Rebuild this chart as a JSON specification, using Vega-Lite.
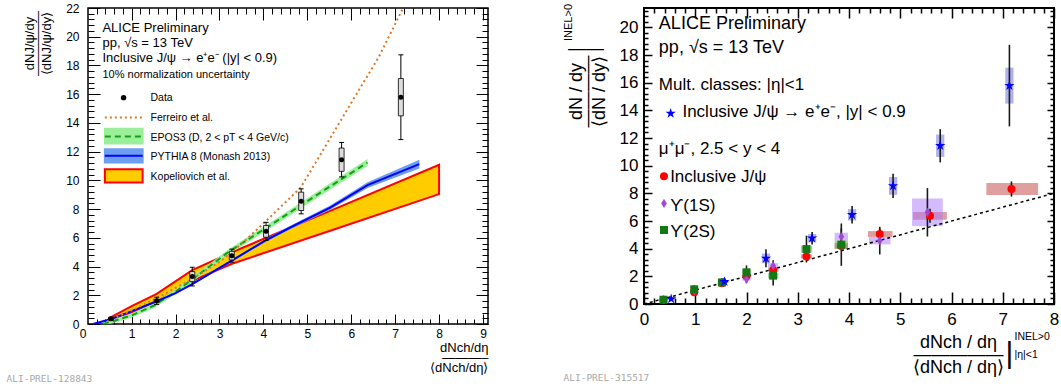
{
  "$schema": "https://vega.github.io/schema/vega-lite/v6.json",
  "padding": {"left": 5, "top": 1, "right": 0, "bottom": 0},
  "spacing": 71,
  "resolve": {"scale": {"fill": "independent", "stroke": "independent", "color": "independent", "shape": "independent"}},
  "config": {
    "font": "Liberation Sans",
    "axis": {"grid": false, "domain": false, "labelFlush": false, "labelOverlap": false, "labelColor": "#000000", "tickColor": "#000000", "titleColor": "#000000", "titleFontWeight": "normal", "titlePadding": 0},
    "view": {"stroke": "#000000", "strokeWidth": 1.5}
  },
  "datasets": {
    "curves": [
      {"model": "Kopeliovich", "x": 0.48, "lo": 0.1, "hi": 0.4},
      {"model": "Kopeliovich", "x": 1.0, "lo": 0.8, "hi": 1.25},
      {"model": "Kopeliovich", "x": 1.57, "lo": 1.55, "hi": 2.1},
      {"model": "Kopeliovich", "x": 2.38, "lo": 3.0, "hi": 3.75},
      {"model": "Kopeliovich", "x": 3.27, "lo": 4.18, "hi": 4.98},
      {"model": "Kopeliovich", "x": 5.52, "lo": 6.49, "hi": 7.88},
      {"model": "Kopeliovich", "x": 8.0, "lo": 9.04, "hi": 11.08},
      {"model": "EPOS3", "x": 0.35, "lo": 0.0, "mid": 0.0, "hi": 0.1},
      {"model": "EPOS3", "x": 0.52, "lo": 0.02, "mid": 0.15, "hi": 0.28},
      {"model": "EPOS3", "x": 1.0, "lo": 0.45, "mid": 0.6, "hi": 0.75},
      {"model": "EPOS3", "x": 1.5, "lo": 1.1, "mid": 1.27, "hi": 1.44},
      {"model": "EPOS3", "x": 2.0, "lo": 2.07, "mid": 2.25, "hi": 2.43},
      {"model": "EPOS3", "x": 2.4, "lo": 2.97, "mid": 3.15, "hi": 3.33},
      {"model": "EPOS3", "x": 3.22, "lo": 4.87, "mid": 5.05, "hi": 5.23},
      {"model": "EPOS3", "x": 4.07, "lo": 6.5, "mid": 6.7, "hi": 6.9},
      {"model": "EPOS3", "x": 5.3, "lo": 8.93, "mid": 9.15, "hi": 9.37},
      {"model": "EPOS3", "x": 6.37, "lo": 11.0, "mid": 11.24, "hi": 11.48},
      {"model": "PYTHIA", "x": 0.12, "lo": 0.0, "mid": 0.0, "hi": 0.02},
      {"model": "PYTHIA", "x": 0.52, "lo": 0.3, "mid": 0.33, "hi": 0.36},
      {"model": "PYTHIA", "x": 1.0, "lo": 0.86, "mid": 0.9, "hi": 0.94},
      {"model": "PYTHIA", "x": 1.57, "lo": 1.53, "mid": 1.58, "hi": 1.63},
      {"model": "PYTHIA", "x": 2.0, "lo": 2.09, "mid": 2.15, "hi": 2.21},
      {"model": "PYTHIA", "x": 2.38, "lo": 2.71, "mid": 2.78, "hi": 2.85},
      {"model": "PYTHIA", "x": 3.27, "lo": 4.32, "mid": 4.4, "hi": 4.48},
      {"model": "PYTHIA", "x": 4.04, "lo": 5.7, "mid": 5.8, "hi": 5.9},
      {"model": "PYTHIA", "x": 4.6, "lo": 6.58, "mid": 6.7, "hi": 6.82},
      {"model": "PYTHIA", "x": 5.52, "lo": 7.95, "mid": 8.1, "hi": 8.25},
      {"model": "PYTHIA", "x": 6.37, "lo": 9.47, "mid": 9.67, "hi": 9.87},
      {"model": "PYTHIA", "x": 7.55, "lo": 10.83, "mid": 11.13, "hi": 11.43},
      {"model": "Ferreiro", "x": 0.45, "mid": 0.2},
      {"model": "Ferreiro", "x": 1.0, "mid": 0.95},
      {"model": "Ferreiro", "x": 1.57, "mid": 1.8},
      {"model": "Ferreiro", "x": 2.38, "mid": 3.15},
      {"model": "Ferreiro", "x": 3.04, "mid": 4.4},
      {"model": "Ferreiro", "x": 3.6, "mid": 5.85},
      {"model": "Ferreiro", "x": 4.07, "mid": 7.2},
      {"model": "Ferreiro", "x": 4.85, "mid": 9.5},
      {"model": "Ferreiro", "x": 5.3, "mid": 11.8},
      {"model": "Ferreiro", "x": 6.04, "mid": 15.6},
      {"model": "Ferreiro", "x": 6.63, "mid": 18.6},
      {"model": "Ferreiro", "x": 7.18, "mid": 22.0}
    ],
    "jpsi": [
      {"x": 0.53, "y": 0.37, "statLo": 0.27, "statHi": 0.47, "sysLo": 0.32, "sysHi": 0.42},
      {"x": 1.57, "y": 1.62, "statLo": 1.37, "statHi": 1.87, "sysLo": 1.52, "sysHi": 1.72},
      {"x": 2.38, "y": 3.3, "statLo": 2.65, "statHi": 3.95, "sysLo": 2.95, "sysHi": 3.65},
      {"x": 3.28, "y": 4.76, "statLo": 4.31, "statHi": 5.21, "sysLo": 4.46, "sysHi": 5.06},
      {"x": 4.06, "y": 6.45, "statLo": 5.82, "statHi": 7.08, "sysLo": 6.04, "sysHi": 6.86},
      {"x": 4.86, "y": 8.54, "statLo": 7.67, "statHi": 9.41, "sysLo": 7.9, "sysHi": 9.18},
      {"x": 5.78, "y": 11.44, "statLo": 10.24, "statHi": 12.64, "sysLo": 10.63, "sysHi": 12.25},
      {"x": 7.13, "y": 15.79, "statLo": 12.84, "statHi": 18.74, "sysLo": 14.49, "sysHi": 17.09}
    ],
    "lleg": [
      {"entry": "Data", "x": 0.816, "line": 15.76},
      {"entry": "Ferreiro", "x": 0.39, "x2": 1.25, "line": 14.37},
      {"entry": "EPOS3", "x": 0.39, "x2": 1.25, "lo": 12.56, "hi": 13.6, "line": 13.05},
      {"entry": "PYTHIA", "x": 0.39, "x2": 1.25, "lo": 11.24, "hi": 12.17, "line": 11.71},
      {"entry": "Kopeliovich", "x": 0.39, "x2": 1.25, "lo": 9.85, "hi": 10.78}
    ],
    "ltext": [
      {"kind": "header", "text": "ALICE Preliminary", "x": 0.335, "y": 20.36},
      {"kind": "header", "text": "pp, √s = 13 TeV", "x": 0.335, "y": 19.31},
      {"kind": "header", "text": "Inclusive J/ψ → e⁺e⁻ (|y| < 0.9)", "x": 0.335, "y": 18.25},
      {"kind": "note", "text": "10% normalization uncertainty", "x": 0.335, "y": 17.16},
      {"kind": "legend", "text": "Data", "x": 1.43, "y": 15.53},
      {"kind": "legend", "text": "Ferreiro et al.", "x": 1.43, "y": 14.14},
      {"kind": "legend", "text": "EPOS3 (D, 2 < pT < 4 GeV/c)", "x": 1.43, "y": 12.75},
      {"kind": "legend", "text": "PYTHIA 8 (Monash 2013)", "x": 1.43, "y": 11.43},
      {"kind": "legend", "text": "Kopeliovich et al.", "x": 1.43, "y": 10.04}
    ],
    "rp": [
      {"series": "JpsiMuMu", "x": 0.38, "y": 0.3, "statLo": 0.28, "statHi": 0.32, "sxLo": 0.33, "sxHi": 0.43, "syLo": 0.28, "syHi": 0.32},
      {"series": "JpsiMuMu", "x": 0.98, "y": 0.85, "statLo": 0.8, "statHi": 0.9, "sxLo": 0.92, "sxHi": 1.04, "syLo": 0.8, "syHi": 0.9},
      {"series": "JpsiMuMu", "x": 1.52, "y": 1.5, "statLo": 1.43, "statHi": 1.57, "sxLo": 1.45, "sxHi": 1.59, "syLo": 1.43, "syHi": 1.57},
      {"series": "JpsiMuMu", "x": 2.0, "y": 2.0, "statLo": 1.9, "statHi": 2.1, "sxLo": 1.92, "sxHi": 2.08, "syLo": 1.9, "syHi": 2.1},
      {"series": "JpsiMuMu", "x": 2.52, "y": 2.46, "statLo": 2.31, "statHi": 2.61, "sxLo": 2.42, "sxHi": 2.62, "syLo": 2.34, "syHi": 2.58},
      {"series": "JpsiMuMu", "x": 3.17, "y": 3.44, "statLo": 3.24, "statHi": 3.64, "sxLo": 3.06, "sxHi": 3.28, "syLo": 3.29, "syHi": 3.59},
      {"series": "JpsiMuMu", "x": 3.85, "y": 4.2, "statLo": 3.95, "statHi": 4.45, "sxLo": 3.72, "sxHi": 3.98, "syLo": 4.0, "syHi": 4.4},
      {"series": "JpsiMuMu", "x": 4.6, "y": 5.06, "statLo": 4.66, "statHi": 5.46, "sxLo": 4.37, "sxHi": 4.85, "syLo": 4.85, "syHi": 5.27},
      {"series": "JpsiMuMu", "x": 5.58, "y": 6.38, "statLo": 5.88, "statHi": 6.88, "sxLo": 5.25, "sxHi": 5.91, "syLo": 6.1, "syHi": 6.66},
      {"series": "JpsiMuMu", "x": 7.17, "y": 8.31, "statLo": 7.76, "statHi": 8.86, "sxLo": 6.68, "sxHi": 7.69, "syLo": 7.88, "syHi": 8.74},
      {"series": "Upsilon1S", "x": 0.38, "y": 0.32, "statLo": 0.27, "statHi": 0.37, "sxLo": 0.33, "sxHi": 0.43, "syLo": 0.29, "syHi": 0.35},
      {"series": "Upsilon1S", "x": 0.98, "y": 0.97, "statLo": 0.82, "statHi": 1.12, "sxLo": 0.92, "sxHi": 1.04, "syLo": 0.91, "syHi": 1.03},
      {"series": "Upsilon1S", "x": 1.52, "y": 1.55, "statLo": 1.35, "statHi": 1.75, "sxLo": 1.45, "sxHi": 1.59, "syLo": 1.45, "syHi": 1.65},
      {"series": "Upsilon1S", "x": 2.0, "y": 1.8, "statLo": 1.5, "statHi": 2.1, "sxLo": 1.92, "sxHi": 2.08, "syLo": 1.68, "syHi": 1.92},
      {"series": "Upsilon1S", "x": 2.52, "y": 2.77, "statLo": 2.37, "statHi": 3.17, "sxLo": 2.42, "sxHi": 2.62, "syLo": 2.59, "syHi": 2.95},
      {"series": "Upsilon1S", "x": 3.85, "y": 4.87, "statLo": 4.27, "statHi": 5.47, "sxLo": 3.72, "sxHi": 3.98, "syLo": 4.59, "syHi": 5.15},
      {"series": "Upsilon1S", "x": 4.6, "y": 4.58, "statLo": 3.58, "statHi": 5.58, "sxLo": 4.39, "sxHi": 4.81, "syLo": 4.31, "syHi": 4.85},
      {"series": "Upsilon1S", "x": 5.53, "y": 6.63, "statLo": 4.88, "statHi": 8.38, "sxLo": 5.23, "sxHi": 5.83, "syLo": 5.63, "syHi": 7.63},
      {"series": "Upsilon2S", "x": 0.38, "y": 0.31, "statLo": 0.21, "statHi": 0.41, "sxLo": 0.33, "sxHi": 0.43, "syLo": 0.26, "syHi": 0.36},
      {"series": "Upsilon2S", "x": 0.98, "y": 1.06, "statLo": 0.76, "statHi": 1.36, "sxLo": 0.92, "sxHi": 1.04, "syLo": 0.98, "syHi": 1.14},
      {"series": "Upsilon2S", "x": 1.52, "y": 1.56, "statLo": 1.26, "statHi": 1.86, "sxLo": 1.45, "sxHi": 1.59, "syLo": 1.46, "syHi": 1.66},
      {"series": "Upsilon2S", "x": 2.0, "y": 2.29, "statLo": 1.79, "statHi": 2.79, "sxLo": 1.92, "sxHi": 2.08, "syLo": 2.14, "syHi": 2.44},
      {"series": "Upsilon2S", "x": 2.52, "y": 2.05, "statLo": 1.33, "statHi": 2.77, "sxLo": 2.42, "sxHi": 2.62, "syLo": 1.85, "syHi": 2.25},
      {"series": "Upsilon2S", "x": 3.17, "y": 3.97, "statLo": 3.0, "statHi": 4.94, "sxLo": 3.06, "sxHi": 3.28, "syLo": 3.72, "syHi": 4.22},
      {"series": "Upsilon2S", "x": 3.85, "y": 4.29, "statLo": 2.76, "statHi": 5.82, "sxLo": 3.72, "sxHi": 3.98, "syLo": 3.99, "syHi": 4.59},
      {"series": "JpsiEE", "x": 0.53, "y": 0.37, "statLo": 0.27, "statHi": 0.47, "sxLo": 0.45, "sxHi": 0.61, "syLo": 0.32, "syHi": 0.42},
      {"series": "JpsiEE", "x": 1.57, "y": 1.62, "statLo": 1.37, "statHi": 1.87, "sxLo": 1.49, "sxHi": 1.65, "syLo": 1.52, "syHi": 1.72},
      {"series": "JpsiEE", "x": 2.38, "y": 3.3, "statLo": 2.65, "statHi": 3.95, "sxLo": 2.3, "sxHi": 2.46, "syLo": 2.95, "syHi": 3.65},
      {"series": "JpsiEE", "x": 3.28, "y": 4.76, "statLo": 4.31, "statHi": 5.21, "sxLo": 3.2, "sxHi": 3.36, "syLo": 4.46, "syHi": 5.06},
      {"series": "JpsiEE", "x": 4.06, "y": 6.45, "statLo": 5.82, "statHi": 7.08, "sxLo": 3.98, "sxHi": 4.14, "syLo": 6.04, "syHi": 6.86},
      {"series": "JpsiEE", "x": 4.86, "y": 8.54, "statLo": 7.67, "statHi": 9.41, "sxLo": 4.78, "sxHi": 4.94, "syLo": 7.9, "syHi": 9.18},
      {"series": "JpsiEE", "x": 5.78, "y": 11.44, "statLo": 10.24, "statHi": 12.64, "sxLo": 5.7, "sxHi": 5.86, "syLo": 10.63, "syHi": 12.25},
      {"series": "JpsiEE", "x": 7.13, "y": 15.79, "statLo": 12.84, "statHi": 18.74, "sxLo": 7.05, "sxHi": 7.21, "syLo": 14.49, "syHi": 17.09}
    ],
    "rline": [
      {"x": 0, "y": 0},
      {"x": 8, "y": 8}
    ],
    "rleg": [
      {"series": "JpsiEE", "x": 0.52, "y": 13.78},
      {"series": "JpsiMuMu", "x": 0.39, "y": 9.23},
      {"series": "Upsilon1S", "x": 0.39, "y": 7.27},
      {"series": "Upsilon2S", "x": 0.39, "y": 5.35}
    ],
    "rtext": [
      {"kind": "header", "text": "ALICE Preliminary", "x": 0.29, "y": 19.88},
      {"kind": "header", "text": "pp, √s = 13 TeV", "x": 0.29, "y": 18.15},
      {"kind": "body", "text": "Mult. classes: |η|<1", "x": 0.29, "y": 15.47},
      {"kind": "body", "text": "Inclusive J/ψ → e⁺e⁻, |y| < 0.9", "x": 0.75, "y": 13.49},
      {"kind": "body", "text": "μ⁺μ⁻, 2.5 < y < 4", "x": 0.29, "y": 10.85},
      {"kind": "body", "text": "Inclusive J/ψ", "x": 0.51, "y": 8.79},
      {"kind": "body", "text": "ϒ(1S)", "x": 0.51, "y": 6.75},
      {"kind": "body", "text": "ϒ(2S)", "x": 0.51, "y": 4.82}
    ]
  },
  "hconcat": [
    {
      "width": 400,
      "height": 316,
      "resolve": {"axis": {"x": "independent", "y": "independent"}},
      "layer": [
        {
          "data": {"name": "curves"},
          "transform": [{"filter": "datum.model === 'Kopeliovich'"}],
          "mark": {"type": "area", "fill": "#FFCC00", "stroke": "#FF0000", "strokeWidth": 2, "fillOpacity": 1},
          "encoding": {
            "x": {"field": "x", "type": "quantitative", "scale": {"domain": [0.12, 9], "nice": false, "zero": false},
              "axis": {"orient": "bottom", "offset": -10, "values": [1, 2, 3, 4, 5, 6, 7, 8, 9], "tickSize": 10, "tickWidth": 1, "labelPadding": 4, "labelFontSize": 12,
                "title": ["dNch/dη", "———–", "⟨dNch/dη⟩"], "titleFontSize": 13, "titleAngle": 0, "titleAlign": "right", "titleBaseline": "alphabetic", "titleX": 400, "titleY": 37, "titleLineHeight": 10}},
            "y": {"field": "lo", "type": "quantitative", "scale": {"domain": [0, 22], "nice": false, "zero": false},
              "axis": {"orient": "left", "offset": -12, "values": [0, 2, 4, 6, 8, 10, 12, 14, 16, 18, 20, 22], "tickSize": 12, "tickWidth": 1, "labelPadding": 9, "labelFontSize": 12,
                "title": ["dNJ/ψ/dy", "—————", "⟨dNJ/ψ/dy⟩"], "titleFontSize": 13, "titleAngle": 270, "titleAlign": "center", "titleBaseline": "alphabetic", "titleX": -67, "titleY": 35, "titleLineHeight": 8.5}},
            "y2": {"field": "hi"}
          }
        },
        {
          "data": {"name": "curves"},
          "transform": [{"filter": "datum.model === 'EPOS3'"}],
          "mark": {"type": "area", "fill": "#9BEF9B"},
          "encoding": {
            "x": {"field": "x", "type": "quantitative", "scale": {"domain": [0.12, 9], "nice": false, "zero": false},
              "axis": {"orient": "bottom", "offset": -5, "values": [0.2, 0.4, 0.6, 0.8, 1.2, 1.4, 1.6, 1.8, 2.2, 2.4, 2.6, 2.8, 3.2, 3.4, 3.6, 3.8, 4.2, 4.4, 4.6, 4.8, 5.2, 5.4, 5.6, 5.8, 6.2, 6.4, 6.6, 6.8, 7.2, 7.4, 7.6, 7.8, 8.2, 8.4, 8.6, 8.8], "labels": false, "tickSize": 5, "tickWidth": 1,
                "title": "ALI-PREL-128843", "titleFont": "DejaVu Sans Mono", "titleFontSize": 9.5, "titleColor": "#A8A8A8", "titleAngle": 0, "titleAlign": "left", "titleBaseline": "alphabetic", "titleX": -82, "titleY": 62}},
            "y": {"field": "lo", "type": "quantitative", "scale": {"domain": [0, 22], "nice": false, "zero": false},
              "axis": {"orient": "left", "offset": -6, "values": [0.4, 0.8, 1.2, 1.6, 2.4, 2.8, 3.2, 3.6, 4.4, 4.8, 5.2, 5.6, 6.4, 6.8, 7.2, 7.6, 8.4, 8.8, 9.2, 9.6, 10.4, 10.8, 11.2, 11.6, 12.4, 12.8, 13.2, 13.6, 14.4, 14.8, 15.2, 15.6, 16.4, 16.8, 17.2, 17.6, 18.4, 18.8, 19.2, 19.6, 20.4, 20.8, 21.2, 21.6], "labels": false, "tickSize": 6, "tickWidth": 1,
                "title": "0", "titleFontSize": 12, "titleAngle": 0, "titleAlign": "center", "titleBaseline": "top", "titleX": -11.4, "titleY": 320}},
            "y2": {"field": "hi"}
          }
        },
        {
          "data": {"name": "curves"},
          "transform": [{"filter": "datum.model === 'PYTHIA'"}],
          "mark": {"type": "area", "fill": "#6C9EF2"},
          "encoding": {
            "x": {"field": "x", "type": "quantitative", "scale": {"domain": [0.12, 9], "nice": false, "zero": false},
              "axis": {"orient": "top", "offset": -12, "values": [1, 2, 3, 4, 5, 6, 7, 8, 9], "labels": false, "tickSize": 12, "tickWidth": 1, "title": null}},
            "y": {"field": "lo", "type": "quantitative", "scale": {"domain": [0, 22], "nice": false, "zero": false},
              "axis": {"orient": "right", "offset": -12, "values": [0, 2, 4, 6, 8, 10, 12, 14, 16, 18, 20, 22], "labels": false, "tickSize": 12, "tickWidth": 1, "title": null}},
            "y2": {"field": "hi"}
          }
        },
        {
          "data": {"name": "curves"},
          "transform": [{"filter": "datum.model === 'EPOS3'"}],
          "mark": {"type": "line", "stroke": "#14A014", "strokeWidth": 2, "strokeDash": [6, 4]},
          "encoding": {
            "x": {"field": "x", "type": "quantitative", "scale": {"domain": [0.12, 9], "nice": false, "zero": false},
              "axis": {"orient": "top", "offset": -6, "values": [0.2, 0.4, 0.6, 0.8, 1.2, 1.4, 1.6, 1.8, 2.2, 2.4, 2.6, 2.8, 3.2, 3.4, 3.6, 3.8, 4.2, 4.4, 4.6, 4.8, 5.2, 5.4, 5.6, 5.8, 6.2, 6.4, 6.6, 6.8, 7.2, 7.4, 7.6, 7.8, 8.2, 8.4, 8.6, 8.8], "labels": false, "tickSize": 6, "tickWidth": 1, "title": null}},
            "y": {"field": "mid", "type": "quantitative", "scale": {"domain": [0, 22], "nice": false, "zero": false},
              "axis": {"orient": "right", "offset": -6, "values": [0.4, 0.8, 1.2, 1.6, 2.4, 2.8, 3.2, 3.6, 4.4, 4.8, 5.2, 5.6, 6.4, 6.8, 7.2, 7.6, 8.4, 8.8, 9.2, 9.6, 10.4, 10.8, 11.2, 11.6, 12.4, 12.8, 13.2, 13.6, 14.4, 14.8, 15.2, 15.6, 16.4, 16.8, 17.2, 17.6, 18.4, 18.8, 19.2, 19.6, 20.4, 20.8, 21.2, 21.6], "labels": false, "tickSize": 6, "tickWidth": 1, "title": null}}
          }
        },
        {
          "data": {"name": "curves"},
          "transform": [{"filter": "datum.model === 'PYTHIA'"}],
          "mark": {"type": "line", "stroke": "#0000FF", "strokeWidth": 2},
          "encoding": {
            "x": {"field": "x", "type": "quantitative", "scale": {"domain": [0.12, 9], "nice": false, "zero": false}, "axis": null},
            "y": {"field": "mid", "type": "quantitative", "scale": {"domain": [0, 22], "nice": false, "zero": false}, "axis": null}
          }
        },
        {
          "data": {"name": "curves"},
          "transform": [{"filter": "datum.model === 'Ferreiro'"}],
          "mark": {"type": "line", "stroke": "#DD7722", "strokeWidth": 2, "strokeDash": [2, 3], "clip": true},
          "encoding": {
            "x": {"field": "x", "type": "quantitative", "scale": {"domain": [0.12, 9], "nice": false, "zero": false}, "axis": null},
            "y": {"field": "mid", "type": "quantitative", "scale": {"domain": [0, 22], "nice": false, "zero": false}, "axis": null}
          }
        },
        {
          "data": {"name": "jpsi"},
          "mark": {"type": "rule", "color": "#000000", "strokeWidth": 1},
          "encoding": {
            "x": {"field": "x", "type": "quantitative", "scale": {"domain": [0.12, 9], "nice": false, "zero": false}, "axis": null},
            "y": {"field": "statLo", "type": "quantitative", "scale": {"domain": [0, 22], "nice": false, "zero": false}, "axis": null},
            "y2": {"field": "statHi"}
          }
        },
        {
          "data": {"name": "jpsi"},
          "mark": {"type": "tick", "orient": "horizontal", "size": 5, "thickness": 1, "color": "#000000", "opacity": 1},
          "encoding": {
            "x": {"field": "x", "type": "quantitative", "scale": {"domain": [0.12, 9], "nice": false, "zero": false}, "axis": null},
            "y": {"field": "statHi", "type": "quantitative", "scale": {"domain": [0, 22], "nice": false, "zero": false}, "axis": null}
          }
        },
        {
          "data": {"name": "jpsi"},
          "mark": {"type": "tick", "orient": "horizontal", "size": 5, "thickness": 1, "color": "#000000", "opacity": 1},
          "encoding": {
            "x": {"field": "x", "type": "quantitative", "scale": {"domain": [0.12, 9], "nice": false, "zero": false}, "axis": null},
            "y": {"field": "statLo", "type": "quantitative", "scale": {"domain": [0, 22], "nice": false, "zero": false}, "axis": null}
          }
        },
        {
          "data": {"name": "jpsi"},
          "mark": {"type": "bar", "width": 5, "fill": "#DDDDDD", "stroke": "#000000", "strokeWidth": 0.8},
          "encoding": {
            "x": {"field": "x", "type": "quantitative", "scale": {"domain": [0.12, 9], "nice": false, "zero": false}, "axis": null},
            "y": {"field": "sysLo", "type": "quantitative", "scale": {"domain": [0, 22], "nice": false, "zero": false}, "axis": null},
            "y2": {"field": "sysHi"}
          }
        },
        {
          "data": {"name": "jpsi"},
          "mark": {"type": "point", "filled": true, "shape": "circle", "size": 25, "color": "#000000", "opacity": 1},
          "encoding": {
            "x": {"field": "x", "type": "quantitative", "scale": {"domain": [0.12, 9], "nice": false, "zero": false}, "axis": null},
            "y": {"field": "y", "type": "quantitative", "scale": {"domain": [0, 22], "nice": false, "zero": false}, "axis": null}
          }
        },
        {
          "data": {"name": "lleg"},
          "transform": [{"filter": "isValid(datum.lo)"}],
          "mark": {"type": "rect", "strokeWidth": 2},
          "encoding": {
            "x": {"field": "x", "type": "quantitative", "scale": {"domain": [0.12, 9], "nice": false, "zero": false}, "axis": null},
            "x2": {"field": "x2"},
            "y": {"field": "lo", "type": "quantitative", "scale": {"domain": [0, 22], "nice": false, "zero": false}, "axis": null},
            "y2": {"field": "hi"},
            "fill": {"field": "entry", "type": "nominal", "scale": {"domain": ["EPOS3", "PYTHIA", "Kopeliovich"], "range": ["#9BEF9B", "#6C9EF2", "#FFCC00"]}, "legend": null},
            "stroke": {"field": "entry", "type": "nominal", "scale": {"domain": ["EPOS3", "PYTHIA", "Kopeliovich"], "range": ["#9BEF9B", "#6C9EF2", "#FF0000"]}, "legend": null}
          }
        },
        {
          "data": {"name": "lleg"},
          "transform": [{"filter": "datum.entry === 'Ferreiro'"}],
          "mark": {"type": "rule", "stroke": "#DD7722", "strokeWidth": 2, "strokeDash": [2, 3]},
          "encoding": {
            "x": {"field": "x", "type": "quantitative", "scale": {"domain": [0.12, 9], "nice": false, "zero": false}, "axis": null},
            "x2": {"field": "x2"},
            "y": {"field": "line", "type": "quantitative", "scale": {"domain": [0, 22], "nice": false, "zero": false}, "axis": null}
          }
        },
        {
          "data": {"name": "lleg"},
          "transform": [{"filter": "datum.entry === 'EPOS3'"}],
          "mark": {"type": "rule", "stroke": "#14A014", "strokeWidth": 2, "strokeDash": [6, 4]},
          "encoding": {
            "x": {"field": "x", "type": "quantitative", "scale": {"domain": [0.12, 9], "nice": false, "zero": false}, "axis": null},
            "x2": {"field": "x2"},
            "y": {"field": "line", "type": "quantitative", "scale": {"domain": [0, 22], "nice": false, "zero": false}, "axis": null}
          }
        },
        {
          "data": {"name": "lleg"},
          "transform": [{"filter": "datum.entry === 'PYTHIA'"}],
          "mark": {"type": "rule", "stroke": "#0000FF", "strokeWidth": 2},
          "encoding": {
            "x": {"field": "x", "type": "quantitative", "scale": {"domain": [0.12, 9], "nice": false, "zero": false}, "axis": null},
            "x2": {"field": "x2"},
            "y": {"field": "line", "type": "quantitative", "scale": {"domain": [0, 22], "nice": false, "zero": false}, "axis": null}
          }
        },
        {
          "data": {"name": "lleg"},
          "transform": [{"filter": "datum.entry === 'Data'"}],
          "mark": {"type": "point", "filled": true, "shape": "circle", "size": 30, "color": "#000000", "opacity": 1},
          "encoding": {
            "x": {"field": "x", "type": "quantitative", "scale": {"domain": [0.12, 9], "nice": false, "zero": false}, "axis": null},
            "y": {"field": "line", "type": "quantitative", "scale": {"domain": [0, 22], "nice": false, "zero": false}, "axis": null}
          }
        },
        {
          "data": {"name": "ltext"},
          "transform": [{"filter": "datum.kind === 'header'"}],
          "mark": {"type": "text", "align": "left", "baseline": "alphabetic", "fontSize": 13, "color": "#000000"},
          "encoding": {
            "x": {"field": "x", "type": "quantitative", "scale": {"domain": [0.12, 9], "nice": false, "zero": false}, "axis": null},
            "y": {"field": "y", "type": "quantitative", "scale": {"domain": [0, 22], "nice": false, "zero": false}, "axis": null},
            "text": {"field": "text"}
          }
        },
        {
          "data": {"name": "ltext"},
          "transform": [{"filter": "datum.kind === 'note'"}],
          "mark": {"type": "text", "align": "left", "baseline": "alphabetic", "fontSize": 11, "color": "#000000"},
          "encoding": {
            "x": {"field": "x", "type": "quantitative", "scale": {"domain": [0.12, 9], "nice": false, "zero": false}, "axis": null},
            "y": {"field": "y", "type": "quantitative", "scale": {"domain": [0, 22], "nice": false, "zero": false}, "axis": null},
            "text": {"field": "text"}
          }
        },
        {
          "data": {"name": "ltext"},
          "transform": [{"filter": "datum.kind === 'legend'"}],
          "mark": {"type": "text", "align": "left", "baseline": "alphabetic", "fontSize": 10.5, "color": "#000000"},
          "encoding": {
            "x": {"field": "x", "type": "quantitative", "scale": {"domain": [0.12, 9], "nice": false, "zero": false}, "axis": null},
            "y": {"field": "y", "type": "quantitative", "scale": {"domain": [0, 22], "nice": false, "zero": false}, "axis": null},
            "text": {"field": "text"}
          }
        }
      ]
    },
    {
      "width": 410,
      "height": 296,
      "view": {"stroke": "#000000", "strokeWidth": 2},
      "resolve": {"axis": {"x": "independent", "y": "independent"}},
      "layer": [
        {
          "data": {"name": "rp"},
          "mark": {"type": "rect", "opacity": 0.5},
          "encoding": {
            "x": {"field": "sxLo", "type": "quantitative", "scale": {"domain": [0, 8], "nice": false, "zero": false},
              "axis": {"orient": "bottom", "offset": -12, "values": [0, 1, 2, 3, 4, 5, 6, 7, 8], "tickSize": 12, "tickWidth": 1.5, "labelPadding": 7, "labelFontSize": 17,
                "title": ["dNch / dη", "—————", "⟨dNch / dη⟩"], "titleFontSize": 18, "titleAngle": 0, "titleAlign": "center", "titleBaseline": "alphabetic", "titleX": 314, "titleY": 55, "titleLineHeight": 12.5}},
            "x2": {"field": "sxHi"},
            "y": {"field": "syLo", "type": "quantitative", "scale": {"domain": [0, 21.4], "nice": false, "zero": false},
              "axis": {"orient": "left", "offset": -8, "values": [0, 2, 4, 6, 8, 10, 12, 14, 16, 18, 20], "tickSize": 8, "tickWidth": 1.5, "labelPadding": 6, "labelFontSize": 17,
                "title": ["dN / dy", "————", "⟨dN / dy⟩"], "titleFontSize": 18, "titleAngle": 270, "titleAlign": "center", "titleBaseline": "alphabetic", "titleX": -71, "titleY": 83, "titleLineHeight": 11.5}},
            "y2": {"field": "syHi"},
            "fill": {"field": "series", "type": "nominal", "scale": {"domain": ["JpsiMuMu", "Upsilon1S", "Upsilon2S", "JpsiEE"], "range": ["#C04040", "#AA78FF", "#50AA50", "#6464DC"]}, "legend": null}
          }
        },
        {
          "data": {"name": "rline"},
          "mark": {"type": "line", "stroke": "#000000", "strokeWidth": 1.5, "strokeDash": [3, 3]},
          "encoding": {
            "x": {"field": "x", "type": "quantitative", "scale": {"domain": [0, 8], "nice": false, "zero": false},
              "axis": {"orient": "bottom", "offset": -6, "values": [0.2, 0.4, 0.6, 0.8, 1.2, 1.4, 1.6, 1.8, 2.2, 2.4, 2.6, 2.8, 3.2, 3.4, 3.6, 3.8, 4.2, 4.4, 4.6, 4.8, 5.2, 5.4, 5.6, 5.8, 6.2, 6.4, 6.6, 6.8, 7.2, 7.4, 7.6, 7.8], "labels": false, "tickSize": 6, "tickWidth": 1.5,
                "title": "|", "titleFontSize": 30, "titleAngle": 0, "titleAlign": "center", "titleBaseline": "alphabetic", "titleX": 365, "titleY": 64}},
            "y": {"field": "y", "type": "quantitative", "scale": {"domain": [0, 21.4], "nice": false, "zero": false},
              "axis": {"orient": "left", "offset": -4, "values": [0.4, 0.8, 1.2, 1.6, 2.4, 2.8, 3.2, 3.6, 4.4, 4.8, 5.2, 5.6, 6.4, 6.8, 7.2, 7.6, 8.4, 8.8, 9.2, 9.6, 10.4, 10.8, 11.2, 11.6, 12.4, 12.8, 13.2, 13.6, 14.4, 14.8, 15.2, 15.6, 16.4, 16.8, 17.2, 17.6, 18.4, 18.8, 19.2, 19.6, 20.4, 20.8, 21.2], "labels": false, "tickSize": 4, "tickWidth": 1.5,
                "title": "INEL>0", "titleFontSize": 11, "titleAngle": 270, "titleAlign": "center", "titleBaseline": "alphabetic", "titleX": -77, "titleY": 14}}
          }
        },
        {
          "data": {"name": "rp"},
          "mark": {"type": "rule", "color": "#1A1A1A", "strokeWidth": 1.6},
          "encoding": {
            "x": {"field": "x", "type": "quantitative", "scale": {"domain": [0, 8], "nice": false, "zero": false},
              "axis": {"orient": "top", "offset": -10, "values": [1, 2, 3, 4, 5, 6, 7, 8], "labels": false, "tickSize": 10, "tickWidth": 1.5,
                "title": ["INEL>0", " ", "|η|<1"], "titleFontSize": 10.5, "titleAngle": 0, "titleAlign": "left", "titleBaseline": "alphabetic", "titleX": 370, "titleY": 321, "titleLineHeight": 18}},
            "y": {"field": "statLo", "type": "quantitative", "scale": {"domain": [0, 21.4], "nice": false, "zero": false},
              "axis": {"orient": "right", "offset": -7, "values": [0, 2, 4, 6, 8, 10, 12, 14, 16, 18, 20], "labels": false, "tickSize": 7, "tickWidth": 1.5,
                "title": "——", "titleFontSize": 18, "titleAngle": 0, "titleAlign": "center", "titleBaseline": "alphabetic", "titleX": -461.5, "titleY": 45}},
            "y2": {"field": "statHi"}
          }
        },
        {
          "data": {"name": "rp"},
          "mark": {"type": "point", "filled": true, "size": 64, "opacity": 1},
          "encoding": {
            "x": {"field": "x", "type": "quantitative", "scale": {"domain": [0, 8], "nice": false, "zero": false},
              "axis": {"orient": "top", "offset": -5, "values": [0.2, 0.4, 0.6, 0.8, 1.2, 1.4, 1.6, 1.8, 2.2, 2.4, 2.6, 2.8, 3.2, 3.4, 3.6, 3.8, 4.2, 4.4, 4.6, 4.8, 5.2, 5.4, 5.6, 5.8, 6.2, 6.4, 6.6, 6.8, 7.2, 7.4, 7.6, 7.8], "labels": false, "tickSize": 5, "tickWidth": 1.5,
                "title": "ALI-PREL-315517", "titleFont": "DejaVu Sans Mono", "titleFontSize": 9.5, "titleColor": "#A8A8A8", "titleAngle": 0, "titleAlign": "left", "titleBaseline": "alphabetic", "titleX": -81, "titleY": 367}},
            "y": {"field": "y", "type": "quantitative", "scale": {"domain": [0, 21.4], "nice": false, "zero": false},
              "axis": {"orient": "right", "offset": -4, "values": [0.4, 0.8, 1.2, 1.6, 2.4, 2.8, 3.2, 3.6, 4.4, 4.8, 5.2, 5.6, 6.4, 6.8, 7.2, 7.6, 8.4, 8.8, 9.2, 9.6, 10.4, 10.8, 11.2, 11.6, 12.4, 12.8, 13.2, 13.6, 14.4, 14.8, 15.2, 15.6, 16.4, 16.8, 17.2, 17.6, 18.4, 18.8, 19.2, 19.6, 20.4, 20.8, 21.2], "labels": false, "tickSize": 4, "tickWidth": 1.5, "title": null}},
            "color": {"field": "series", "type": "nominal", "scale": {"domain": ["JpsiMuMu", "Upsilon1S", "Upsilon2S", "JpsiEE"], "range": ["#FF0000", "#A347D6", "#147814", "#0000FF"]}, "legend": null},
            "shape": {"field": "series", "type": "nominal", "scale": {"domain": ["JpsiMuMu", "Upsilon1S", "Upsilon2S", "JpsiEE"], "range": ["circle", "M0,-1.15L0.7,0L0,1.15L-0.7,0Z", "square", "M0,-1.35L0.3,-0.42L1.28,-0.42L0.49,0.16L0.8,1.09L0,0.52L-0.8,1.09L-0.49,0.16L-1.28,-0.42L-0.3,-0.42Z"]}, "legend": null}
          }
        },
        {
          "data": {"name": "rleg"},
          "mark": {"type": "point", "filled": true, "size": 64, "opacity": 1},
          "encoding": {
            "x": {"field": "x", "type": "quantitative", "scale": {"domain": [0, 8], "nice": false, "zero": false}, "axis": null},
            "y": {"field": "y", "type": "quantitative", "scale": {"domain": [0, 21.4], "nice": false, "zero": false}, "axis": null},
            "color": {"field": "series", "type": "nominal", "scale": {"domain": ["JpsiMuMu", "Upsilon1S", "Upsilon2S", "JpsiEE"], "range": ["#FF0000", "#A347D6", "#147814", "#0000FF"]}, "legend": null},
            "shape": {"field": "series", "type": "nominal", "scale": {"domain": ["JpsiMuMu", "Upsilon1S", "Upsilon2S", "JpsiEE"], "range": ["circle", "M0,-1.15L0.7,0L0,1.15L-0.7,0Z", "square", "M0,-1.35L0.3,-0.42L1.28,-0.42L0.49,0.16L0.8,1.09L0,0.52L-0.8,1.09L-0.49,0.16L-1.28,-0.42L-0.3,-0.42Z"]}, "legend": null}
          }
        },
        {
          "data": {"name": "rtext"},
          "transform": [{"filter": "datum.kind === 'header'"}],
          "mark": {"type": "text", "align": "left", "baseline": "alphabetic", "fontSize": 18, "color": "#000000"},
          "encoding": {
            "x": {"field": "x", "type": "quantitative", "scale": {"domain": [0, 8], "nice": false, "zero": false}, "axis": null},
            "y": {"field": "y", "type": "quantitative", "scale": {"domain": [0, 21.4], "nice": false, "zero": false}, "axis": null},
            "text": {"field": "text"}
          }
        },
        {
          "data": {"name": "rtext"},
          "transform": [{"filter": "datum.kind === 'body'"}],
          "mark": {"type": "text", "align": "left", "baseline": "alphabetic", "fontSize": 17, "color": "#000000"},
          "encoding": {
            "x": {"field": "x", "type": "quantitative", "scale": {"domain": [0, 8], "nice": false, "zero": false}, "axis": null},
            "y": {"field": "y", "type": "quantitative", "scale": {"domain": [0, 21.4], "nice": false, "zero": false}, "axis": null},
            "text": {"field": "text"}
          }
        }
      ]
    }
  ]
}
